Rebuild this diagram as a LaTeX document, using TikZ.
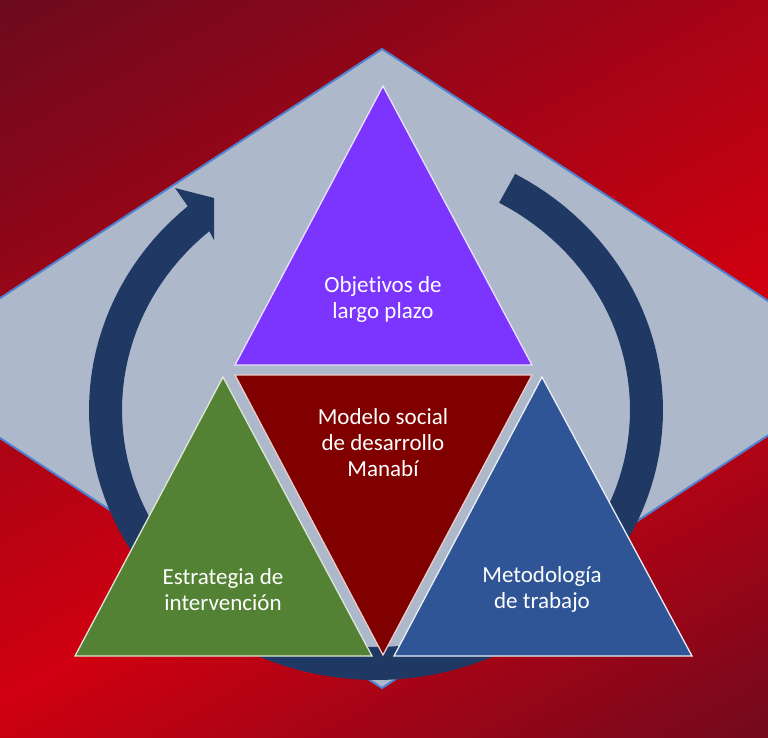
\documentclass[tikz,border=0pt]{standalone}
\usepackage{fontspec}
\setmainfont{Carlito}[Ligatures=NoCommon]
\definecolor{bgdark}{HTML}{6C0A1E}
\definecolor{bgbright}{HTML}{D00010}
\definecolor{diamondfill}{HTML}{ADB9CA}
\definecolor{diamondline}{HTML}{4F81D0}
\definecolor{ringblue}{HTML}{203864}
\definecolor{objpurple}{HTML}{7B35FF}
\definecolor{modred}{HTML}{800000}
\definecolor{estgreen}{HTML}{548235}
\definecolor{metblue}{HTML}{2F5597}
\begin{document}
\begin{tikzpicture}[x=1pt, y=-1pt,
	tri/.style={line width=1.3pt, line join=miter},
	tritext/.style={text=white, align=center, font=\fontsize{23}{26}\selectfont}]
	\useasboundingbox (0,0) rectangle (768,737);
	\clip (0,0) rectangle (768,737);
	\foreach \k in {0,...,175} {
		\pgfmathsetmacro\sa{\k*6}
		\pgfmathsetmacro\sb{\sa+7}
		\pgfmathsetmacro\p{\sa<614 ? \sa/614*100 : max(0,(1040-\sa)/426*100)}
		\colorlet{stripe}{bgbright!\p!bgdark}
		\fill [stripe] ({\sa*0.48-1000*0.878},{\sa*0.878+1000*0.48}) -- ({\sa*0.48+1000*0.878},{\sa*0.878-1000*0.48}) -- ({\sb*0.48+1000*0.878},{\sb*0.878-1000*0.48}) -- ({\sb*0.48-1000*0.878},{\sb*0.878+1000*0.48}) -- cycle;
	}
	\filldraw [fill=diamondfill, draw=diamondline, line width=2pt] (382,49) -- (871,368) -- (382,688) -- (-107,368) -- cycle;
	\fill [ringblue] plot [domain=61:-229, samples=120] ({376+287*cos(\x)}, {410-270*sin(\x)}) -- (175,188) -- (214,198) -- (214,240) -- plot [domain=-229:61, samples=120] ({376+254*cos(\x)}, {410-237*sin(\x)}) -- cycle;
	\filldraw [tri, fill=objpurple, draw=white!85!objpurple] (383,86) -- (532,365) -- (235,365) -- cycle;
	\filldraw [tri, fill=modred, draw=white!80!modred] (235,375) -- (532,375) -- (383,655) -- cycle;
	\filldraw [tri, fill=estgreen, draw=white!80!estgreen] (223,377) -- (372,656) -- (75,656) -- cycle;
	\filldraw [tri, fill=metblue, draw=white!90!metblue] (542,377) -- (692,656) -- (394,656) -- cycle;
	\node (objetivos) [tritext] at (383,299) {Objetivos de\\largo plazo};
	\node (modelo) [tritext] at (383,443) {Modelo social\\de desarrollo\\Manabí};
	\node (estrategia) [tritext] at (223,590) {Estrategia de\\intervención};
	\node (metodologia) [tritext] at (542,589) {Metodología\\de trabajo};
\end{tikzpicture}
\end{document}
